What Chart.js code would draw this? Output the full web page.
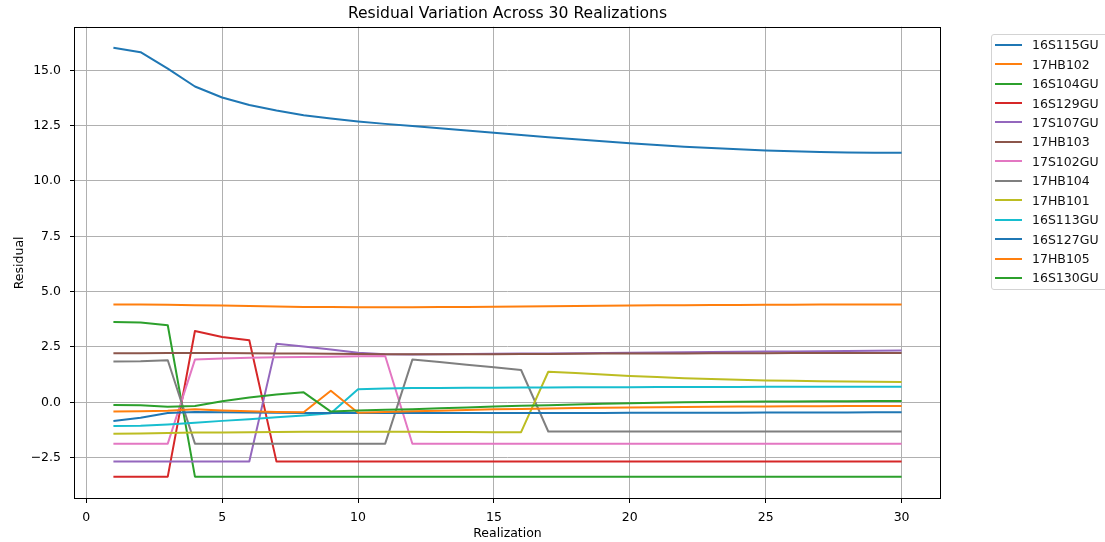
<!DOCTYPE html>
<html>
<head>
<meta charset="utf-8">
<script src="https://cdn.jsdelivr.net/npm/chart.js@4.4.1/dist/chart.umd.min.js"></script>
<style>
  html, body { margin: 0; padding: 0; background: #ffffff; overflow: hidden; }
  #wrap { position: relative; width: 1105px; height: 542px; }
  #chart { position: absolute; left: 0; top: 0; }
  #legend {
    position: absolute; left: 991px; top: 34px; width: 124px; height: 256px;
    border: 1px solid #d3d3d3; border-radius: 3px; background: rgba(255,255,255,0.85);
    box-sizing: border-box; font-family: "DejaVu Sans", sans-serif; font-size: 12.5px; color: #111;
  }
  .item { position: relative; height: 19.45px; display: flex; align-items: center; }
  .swatch { width: 27px; height: 2px; margin-left: 3px; margin-right: 10px; }
</style>
</head>
<body>
<div id="wrap">
  <canvas id="chart" width="1105" height="542"></canvas>
  <div id="legend"></div>
</div>
<script>
// ---- data ----
const chartTitle = "Residual Variation Across 30 Realizations";
const xAxisLabel = "Realization";
const yAxisLabel = "Residual";
const realization = [1,2,3,4,5,6,7,8,9,10,11,12,13,14,15,16,17,18,19,20,21,22,23,24,25,26,27,28,29,30];
const seriesNames = ["16S115GU","17HB102","16S104GU","16S129GU","17S107GU","17HB103","17S102GU","17HB104","17HB101","16S113GU","16S127GU","17HB105","16S130GU"];
const seriesColors = ["#1f77b4","#ff7f0e","#2ca02c","#d62728","#9467bd","#8c564b","#e377c2","#7f7f7f","#bcbd22","#17becf","#1f77b4","#ff7f0e","#2ca02c"];

const s16S115GU = [16.02,15.82,15.08,14.27,13.77,13.43,13.18,12.97,12.82,12.69,12.58,12.48,12.38,12.28,12.18,12.08,11.98,11.88,11.79,11.70,11.62,11.55,11.49,11.43,11.38,11.34,11.31,11.29,11.28,11.27];
const s17HB102  = [4.42,4.42,4.41,4.39,4.37,4.35,4.33,4.31,4.30,4.29,4.29,4.29,4.30,4.31,4.32,4.33,4.34,4.35,4.36,4.37,4.38,4.39,4.40,4.40,4.41,4.41,4.42,4.42,4.42,4.42];
const s16S104GU = [3.63,3.61,3.48,-3.36,-3.36,-3.36,-3.36,-3.36,-3.36,-3.36,-3.36,-3.36,-3.36,-3.36,-3.36,-3.36,-3.36,-3.36,-3.36,-3.36,-3.36,-3.36,-3.36,-3.36,-3.36,-3.36,-3.36,-3.36,-3.36,-3.36];
const s16S129GU = [-3.36,-3.36,-3.36,3.22,2.95,2.80,-2.68,-2.68,-2.68,-2.68,-2.68,-2.68,-2.68,-2.68,-2.68,-2.68,-2.68,-2.68,-2.68,-2.68,-2.68,-2.68,-2.68,-2.68,-2.68,-2.68,-2.68,-2.68,-2.68,-2.68];
const s17S107GU = [-2.68,-2.68,-2.68,-2.68,-2.68,-2.68,2.64,2.52,2.38,2.24,2.17,2.16,2.17,2.18,2.19,2.20,2.21,2.22,2.23,2.24,2.25,2.26,2.27,2.28,2.29,2.30,2.31,2.32,2.33,2.34];
const s17HB103  = [2.22,2.22,2.23,2.23,2.23,2.22,2.21,2.20,2.19,2.18,2.17,2.17,2.17,2.17,2.17,2.18,2.18,2.19,2.20,2.20,2.21,2.21,2.22,2.22,2.22,2.23,2.23,2.23,2.23,2.23];
const s17S102GU = [-1.87,-1.87,-1.87,1.93,1.98,2.01,2.03,2.05,2.06,2.08,2.09,-1.87,-1.87,-1.87,-1.87,-1.87,-1.87,-1.87,-1.87,-1.87,-1.87,-1.87,-1.87,-1.87,-1.87,-1.87,-1.87,-1.87,-1.87,-1.87];
const s17HB104  = [1.84,1.85,1.90,-1.87,-1.87,-1.87,-1.87,-1.87,-1.87,-1.87,-1.87,1.93,1.82,1.70,1.58,1.46,-1.32,-1.32,-1.32,-1.32,-1.32,-1.32,-1.32,-1.32,-1.32,-1.32,-1.32,-1.32,-1.32,-1.32];
const s17HB101  = [-1.42,-1.41,-1.39,-1.37,-1.36,-1.35,-1.34,-1.33,-1.33,-1.33,-1.33,-1.33,-1.34,-1.34,-1.35,-1.35,1.38,1.32,1.25,1.19,1.14,1.09,1.05,1.02,0.99,0.97,0.95,0.94,0.93,0.92];
const s16S113GU = [-1.07,-1.06,-1.00,-0.92,-0.84,-0.77,-0.68,-0.60,-0.50,0.59,0.62,0.64,0.65,0.66,0.66,0.67,0.67,0.68,0.68,0.68,0.69,0.69,0.69,0.69,0.70,0.70,0.70,0.70,0.70,0.70];
const s16S127GU = [-0.85,-0.70,-0.48,-0.44,-0.45,-0.46,-0.47,-0.48,-0.48,-0.48,-0.48,-0.48,-0.48,-0.48,-0.48,-0.48,-0.48,-0.48,-0.48,-0.47,-0.47,-0.47,-0.47,-0.47,-0.46,-0.46,-0.46,-0.46,-0.45,-0.45];
const s17HB105  = [-0.42,-0.41,-0.38,-0.32,-0.37,-0.41,-0.44,-0.45,0.52,-0.47,-0.44,-0.41,-0.38,-0.35,-0.32,-0.30,-0.28,-0.26,-0.25,-0.23,-0.22,-0.21,-0.20,-0.19,-0.19,-0.18,-0.18,-0.17,-0.17,-0.17];
const s16S130GU = [-0.12,-0.13,-0.20,-0.17,0.05,0.22,0.35,0.45,-0.42,-0.37,-0.34,-0.31,-0.27,-0.23,-0.19,-0.16,-0.13,-0.10,-0.07,-0.04,-0.02,0.00,0.01,0.02,0.03,0.04,0.05,0.05,0.06,0.06];

const seriesValues = [s16S115GU,s17HB102,s16S104GU,s16S129GU,s17S107GU,s17HB103,s17S102GU,s17HB104,s17HB101,s16S113GU,s16S127GU,s17HB105,s16S130GU];

const xTickValues = [0,5,10,15,20,25,30];
const xTickLabels = ["0","5","10","15","20","25","30"];
const yTickValues = [-2.5,0,2.5,5,7.5,10,12.5,15];
const yTickLabels = ["\u22122.5","0.0","2.5","5.0","7.5","10.0","12.5","15.0"];

// ---- chart ----
const FONT = "DejaVu Sans";
const tickFont = { family: FONT, size: 12.5 };
const N = seriesNames.length;

const datasets = seriesNames.map((name, i) => ({
  label: name,
  data: realization.map((x, j) => ({ x: x, y: seriesValues[i][j] })),
  borderColor: seriesColors[i],
  backgroundColor: seriesColors[i],
  borderWidth: 2,
  pointRadius: 0,
  pointHoverRadius: 0,
  tension: 0,
  fill: false,
  borderJoinStyle: 'round',
  order: N - i
}));

const framePlugin = {
  id: 'frame',
  afterLayout(chart) {
    // centre the title over the plotting area, like the reference
    const t = chart.titleBlock;
    if (t) { t.left = chart.chartArea.left; t.right = chart.chartArea.right; }
  },
  afterDraw(chart) {
    const { ctx, chartArea: a } = chart;
    ctx.save();
    ctx.strokeStyle = '#000';
    ctx.lineWidth = 1;
    ctx.strokeRect(Math.round(a.left) + 0.5, Math.round(a.top) + 0.5, Math.round(a.right - a.left) - 1, Math.round(a.bottom - a.top) - 1);
    ctx.restore();
  }
};

const chart = new Chart(document.getElementById('chart').getContext('2d'), {
  type: 'line',
  data: { datasets },
  options: {
    responsive: false,
    animation: false,
    events: [],
    layout: { padding: { left: 0, right: 164, top: 0, bottom: 0 } },
    plugins: {
      legend: { display: false },
      tooltip: { enabled: false },
      title: {
        display: true, text: chartTitle, color: '#000',
        font: { family: FONT, size: 15.6, weight: 'normal' },
        padding: { top: 5, bottom: 3 }
      }
    },
    scales: {
      x: {
        type: 'linear', min: -0.45, max: 31.45,
        afterBuildTicks: s => { s.ticks = xTickValues.map(v => ({ value: v })); },
        afterFit: s => { s.height = 43; },
        ticks: { font: tickFont, color: '#000', padding: 7, maxRotation: 0, autoSkip: false,
                 callback: (v, i) => xTickLabels[i] },
        grid: { color: '#b0b0b0', lineWidth: 1, tickLength: 4, tickColor: '#000', drawTicks: true },
        border: { display: false },
        title: { display: true, text: xAxisLabel, color: '#000', font: tickFont, padding: { top: 0, bottom: 1 } }
      },
      y: {
        type: 'linear', min: -4.37, max: 16.97,
        afterBuildTicks: s => { s.ticks = yTickValues.map(v => ({ value: v })); },
        afterFit: s => { s.width = 74; },
        ticks: { font: tickFont, color: '#000', padding: 9, autoSkip: false,
                 callback: (v, i) => yTickLabels[i] },
        grid: { color: '#b0b0b0', lineWidth: 1, tickLength: 4, tickColor: '#000', drawTicks: true },
        border: { display: false },
        title: { display: true, text: yAxisLabel, color: '#000', font: tickFont, padding: { top: 12, bottom: 0 } }
      }
    }
  },
  plugins: [framePlugin]
});

// ---- legend (built from the chart's datasets) ----
const legendEl = document.getElementById('legend');
chart.data.datasets.forEach(ds => {
  const row = document.createElement('div');
  row.className = 'item';
  const sw = document.createElement('span');
  sw.className = 'swatch';
  sw.style.background = ds.borderColor;
  const tx = document.createElement('span');
  tx.textContent = ds.label;
  row.appendChild(sw);
  row.appendChild(tx);
  legendEl.appendChild(row);
});
</script>
</body>
</html>
